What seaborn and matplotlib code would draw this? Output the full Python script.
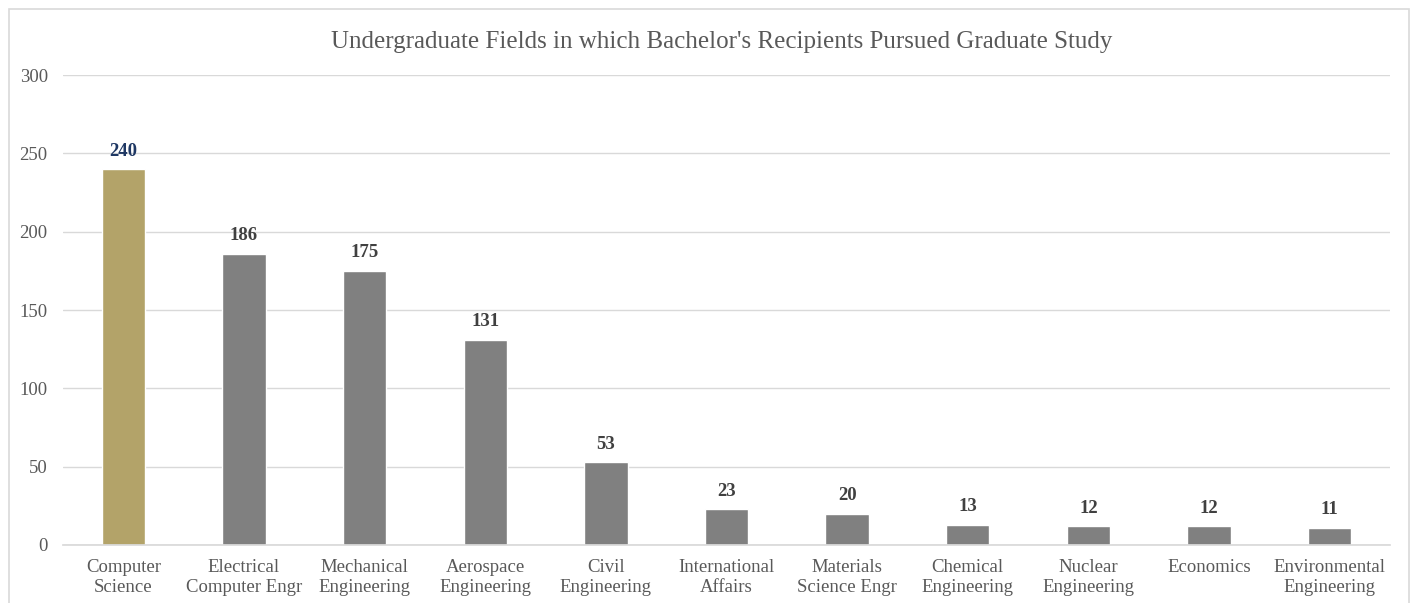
import matplotlib
matplotlib.use("Agg")
import matplotlib.pyplot as plt
import seaborn as sns
import pandas as pd
from matplotlib.patches import Rectangle

fields = ["Computer\nScience", "Electrical\nComputer Engr", "Mechanical\nEngineering",
          "Aerospace\nEngineering", "Civil\nEngineering", "International\nAffairs",
          "Materials\nScience Engr", "Chemical\nEngineering", "Nuclear\nEngineering",
          "Economics", "Environmental\nEngineering"]
counts = [240, 186, 175, 131, 53, 23, 20, 13, 12, 12, 11]
y_ticks = [0, 50, 100, 150, 200, 250, 300]

gold = "#B3A369"
gray = "#808080"
text_gray = "#595959"

df = pd.DataFrame({"field": fields, "count": counts})
bar_colors = [gold] + [gray] * (len(fields) - 1)

sns.set_theme(style="white")
plt.rcParams["font.family"] = ["Liberation Serif", "DejaVu Serif"]

fig = plt.figure(figsize=(14.16, 6.03), dpi=100)
ax = fig.add_axes([0.0445, 0.0962, 0.9371, 0.7794])

sns.barplot(data=df, x="field", y="count", hue="field", palette=bar_colors,
            legend=False, width=0.36, ax=ax, saturation=1)

# value labels above bars
for i, (bar, v) in enumerate(zip(ax.patches, counts)):
    ax.text(bar.get_x() + bar.get_width() / 2, v + 6, str(v), ha="center", va="bottom",
            fontsize=13.5, fontweight="bold",
            color="#1F3864" if i == 0 else "#404040")

ax.set_ylim(0, 300)
ax.set_xlim(-0.5, len(fields) - 0.5)
ax.set_yticks(y_ticks)
ax.yaxis.grid(True, color="#D9D9D9", linewidth=1)
ax.set_axisbelow(True)
for s in ["top", "right", "left"]:
    ax.spines[s].set_visible(False)
ax.spines["bottom"].set_color("#D9D9D9")
ax.tick_params(axis="y", length=0, labelsize=13.5, labelcolor=text_gray, pad=11)
ax.tick_params(axis="x", length=0, labelsize=13.5, labelcolor=text_gray, pad=10)
for lbl in ax.get_xticklabels():
    lbl.set_linespacing(1.25)
ax.set_xlabel("")
ax.set_ylabel("")

fig.text(0.51, 0.93, "Undergraduate Fields in which Bachelor's Recipients Pursued Graduate Study",
         ha="center", va="center", fontsize=18, color=text_gray)

# light chart border
fig.patches.append(Rectangle((9 / 1416, -0.05), 1400 / 1416, 1 - 9 / 603 + 0.05,
                             transform=fig.transFigure, fill=False,
                             edgecolor="#D9D9D9", linewidth=1.2))

fig.savefig("out.png", dpi=100, facecolor="white")
